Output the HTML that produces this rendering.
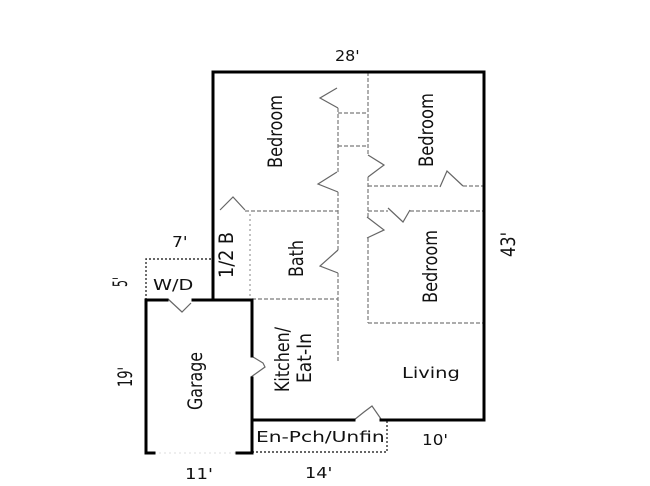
<!DOCTYPE html>
<html><head><meta charset="utf-8"><style>
html,body{margin:0;padding:0;background:#fff;}
svg{display:block;}
text{font-family:"DejaVu Sans","Liberation Sans",sans-serif;font-size:15px;fill:#111;}
</style></head><body>
<svg width="650" height="486" viewBox="0 0 650 486" xmlns="http://www.w3.org/2000/svg">
<rect width="650" height="486" fill="#fff"/>
<!-- dashed interior walls -->
<g stroke="#7a7a7a" stroke-width="1.2" fill="none" stroke-dasharray="4 2">
<path d="M368,72 V155"/>
<path d="M338,108 V172"/>
<path d="M338,192 V250"/>
<path d="M338,273 V363"/>
<path d="M338,113 H368"/>
<path d="M338,146 H368"/>
<path d="M245,211 H338"/>
<path d="M368,186 H440 M463,186 H484"/>
<path d="M368,177 V217"/>
<path d="M368,211 H388 M410,211 H484"/>
<path d="M368,238 V323"/>
<path d="M368,323 H484"/>
<path d="M252,299 H338"/>
</g>
<path d="M250,214 V299" stroke="#999" stroke-width="1.2" stroke-dasharray="2 3" fill="none"/>
<!-- doors -->
<g stroke="#666" stroke-width="1.2" fill="none">
<polyline points="168,299 182,312 191,303"/>
<polyline points="354,420 364,412 372,406 381,419"/>
<polyline points="253,357 263,363 265,367 251,377"/>
<polyline points="220,210 233,197 245,210"/>
<polyline points="337,88 320,98 338,108"/>
<polyline points="368,155 384,165 368,177"/>
<polyline points="337,172 318,184 338,192"/>
<polyline points="440,187 447,171 463,186"/>
<polyline points="388,208 403,222 410,210"/>
<polyline points="367,217 384,230 367,238"/>
<polyline points="338,250 320,266 338,273"/>
</g>
<!-- dotted outlines -->
<g stroke="#333" stroke-width="1.4" fill="none" stroke-dasharray="2 2">
<path d="M146,300 V259 H213"/>
<path d="M252,452 H387 V420"/>
</g>
<path d="M154,453 H237" stroke="#ddd" stroke-width="1" stroke-dasharray="2 3" fill="none"/>
<!-- bold walls -->
<g stroke="#000" stroke-width="3" fill="none" stroke-linecap="square">
<path d="M213,72 H484 V420 H381"/>
<path d="M354,420 H252"/>
<path d="M213,72 V300"/>
<path d="M146,300 H167 M193,300 H252"/>
<path d="M252,300 V356 M252,378 V453 H237"/>
<path d="M154,453 H146 V300"/>
</g>
<!-- horizontal labels -->
<text transform="translate(335,61) scale(1.3,1)" textLength="19" lengthAdjust="spacingAndGlyphs">28'</text>
<text transform="translate(172,247) scale(1.3,1)" textLength="12" lengthAdjust="spacingAndGlyphs">7'</text>
<text transform="translate(153,290) scale(1.3,1)" textLength="31" lengthAdjust="spacingAndGlyphs">W/D</text>
<text transform="translate(402,378) scale(1.3,1)" textLength="44.5" lengthAdjust="spacingAndGlyphs">Living</text>
<text transform="translate(256,442) scale(1.3,1)" textLength="99" lengthAdjust="spacingAndGlyphs">En-Pch/Unfin</text>
<text transform="translate(422,445) scale(1.3,1)" textLength="20" lengthAdjust="spacingAndGlyphs">10'</text>
<text transform="translate(185,479) scale(1.3,1)" textLength="21.5" lengthAdjust="spacingAndGlyphs">11'</text>
<text transform="translate(305,478) scale(1.3,1)" textLength="21" lengthAdjust="spacingAndGlyphs">14'</text>
<!-- rotated labels -->
<g text-anchor="middle">
<text transform="translate(282,131.5) scale(1.3,1) rotate(-90)" textLength="73" lengthAdjust="spacingAndGlyphs">Bedroom</text>
<text transform="translate(433,130) scale(1.3,1) rotate(-90)" textLength="74" lengthAdjust="spacingAndGlyphs">Bedroom</text>
<text transform="translate(437,266.5) scale(1.3,1) rotate(-90)" textLength="73" lengthAdjust="spacingAndGlyphs">Bedroom</text>
<text transform="translate(303,258.5) scale(1.3,1) rotate(-90)" textLength="37" lengthAdjust="spacingAndGlyphs">Bath</text>
<text transform="translate(233,255) scale(1.3,1) rotate(-90)" textLength="46" lengthAdjust="spacingAndGlyphs">1/2 B</text>
<text transform="translate(515,244.5) scale(1.3,1) rotate(-90)" textLength="25" lengthAdjust="spacingAndGlyphs">43'</text>
<text transform="translate(127,282) scale(1.3,1) rotate(-90)" textLength="10" lengthAdjust="spacingAndGlyphs">5'</text>
<text transform="translate(132,377) scale(1.3,1) rotate(-90)" textLength="20" lengthAdjust="spacingAndGlyphs">19'</text>
<text transform="translate(202,381) scale(1.3,1) rotate(-90)" textLength="58" lengthAdjust="spacingAndGlyphs">Garage</text>
<text transform="translate(289,359.5) scale(1.3,1) rotate(-90)" textLength="65" lengthAdjust="spacingAndGlyphs">Kitchen/</text>
<text transform="translate(311,358) scale(1.3,1) rotate(-90)" textLength="50" lengthAdjust="spacingAndGlyphs">Eat-In</text>
</g>
</svg>
</body></html>
